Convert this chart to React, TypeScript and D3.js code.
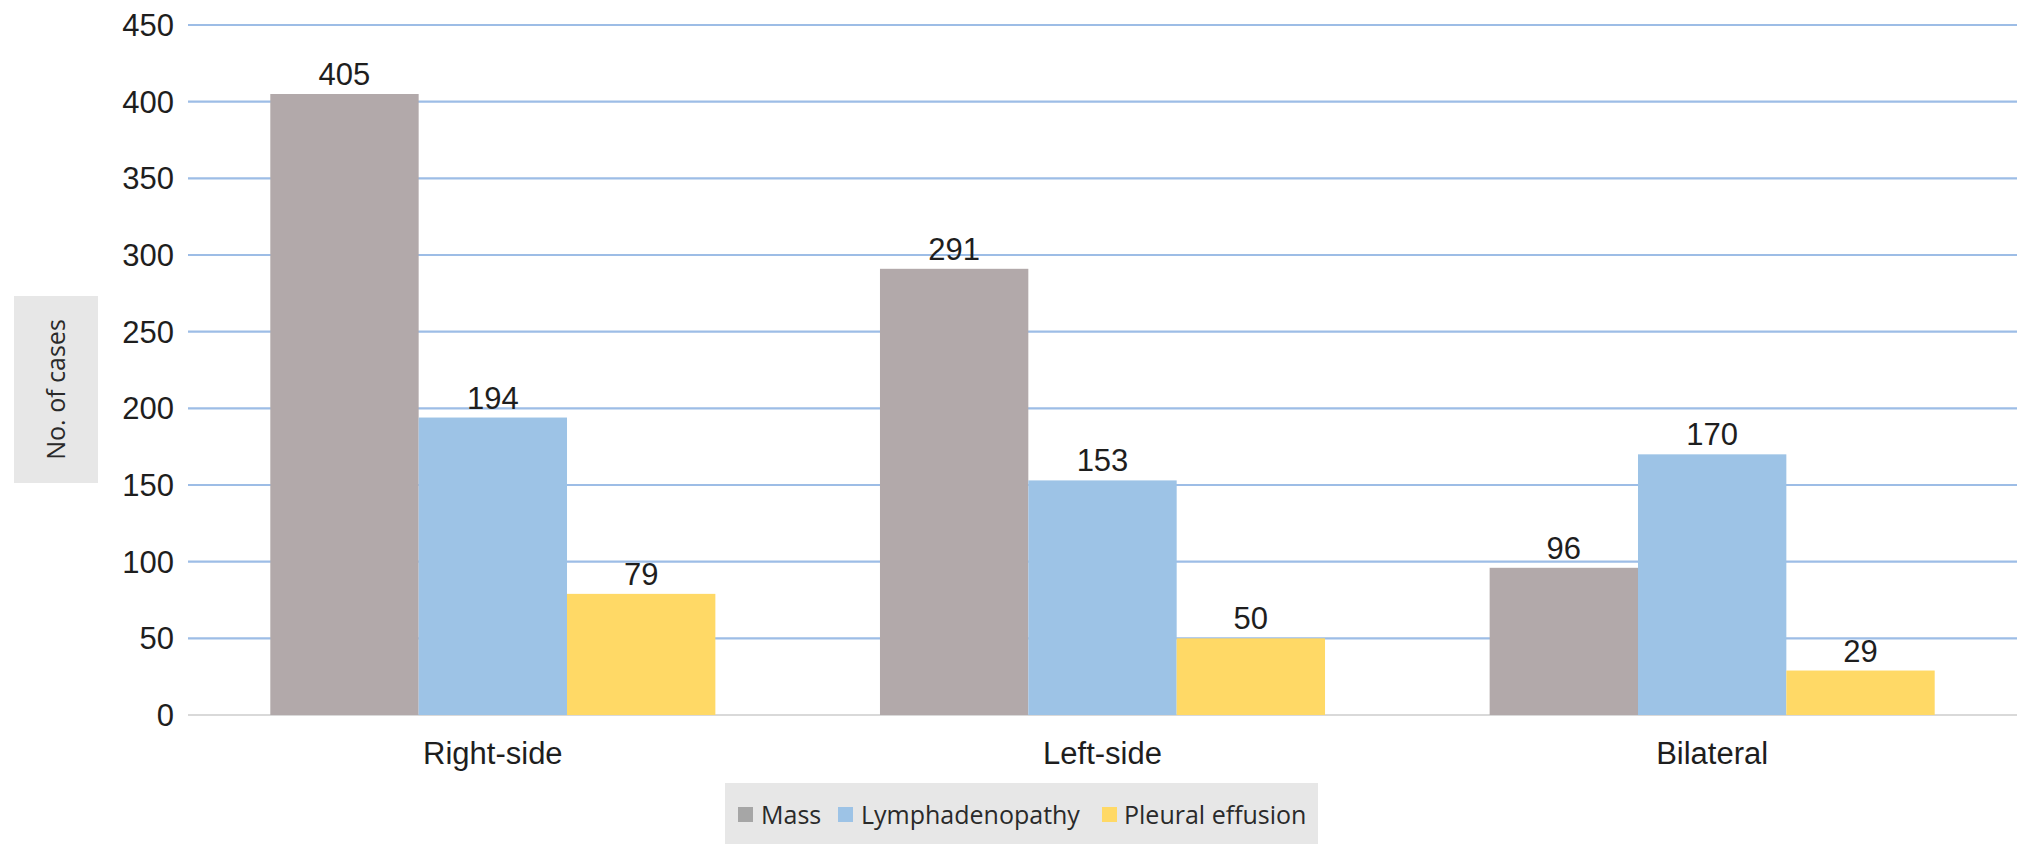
import React from "react";
import * as d3 from "d3";

const categories = ["Right-side", "Left-side", "Bilateral"];
const seriesNames = ["Mass", "Lymphadenopathy", "Pleural effusion"];
const massValues = [405, 291, 96];
const lymphValues = [194, 153, 170];
const pleuralValues = [79, 50, 29];
const yTicks = [0, 50, 100, 150, 200, 250, 300, 350, 400, 450];

const seriesValues = [massValues, lymphValues, pleuralValues];
const barColors = ["#b2a9aa", "#9dc3e6", "#ffd966"];
const legendColors = ["#a6a6a6", "#9dc3e6", "#ffd966"];

const W = 2032;
const H = 859;
const plotLeft = 188;
const plotRight = 2017;
const plotTop = 25;
const plotBottom = 715;

export default function App() {
  const x0 = d3
    .scaleBand<string>()
    .domain(categories)
    .range([plotLeft, plotRight])
    .paddingInner(0.27)
    .paddingOuter(0.135);
  const x1 = d3
    .scaleBand<string>()
    .domain(seriesNames)
    .range([0, x0.bandwidth()])
    .padding(0);
  const y = d3.scaleLinear().domain([0, 450]).range([plotBottom, plotTop]);

  const numFont = "'Liberation Sans', Arial, Helvetica, sans-serif";
  const legFont = "'Open Sans', 'Noto Sans', sans-serif";

  const legendItems = [
    { sq: 738, tx: 761 },
    { sq: 838, tx: 861 },
    { sq: 1102, tx: 1124 },
  ];

  return (
    <svg
      width={W}
      height={H}
      style={{ position: "absolute", left: 0, top: 0, background: "#fff" }}
    >
      {yTicks.map((t) => (
        <line
          key={t}
          x1={plotLeft}
          x2={plotRight}
          y1={y(t)}
          y2={y(t)}
          stroke={t === 0 ? "#d9d9d9" : "#9dbde6"}
          strokeWidth={2.2}
        />
      ))}
      {yTicks.map((t) => (
        <text
          key={"l" + t}
          x={174}
          y={y(t)}
          dy="0.36em"
          textAnchor="end"
          fontFamily={numFont}
          fontSize={31}
          fill="#1e1e1e"
        >
          {t}
        </text>
      ))}
      {categories.map((c, ci) => (
        <g key={c} transform={`translate(${x0(c)},0)`}>
          {seriesNames.map((s, si) => {
            const v = seriesValues[si][ci];
            const bx = x1(s)!;
            return (
              <g key={s}>
                <rect
                  x={bx}
                  y={y(v)}
                  width={x1.bandwidth()}
                  height={y(0) - y(v)}
                  fill={barColors[si]}
                />
                <text
                  x={bx + x1.bandwidth() / 2}
                  y={y(v) - 9}
                  textAnchor="middle"
                  fontFamily={numFont}
                  fontSize={31}
                  fill="#1e1e1e"
                >
                  {v}
                </text>
              </g>
            );
          })}
        </g>
      ))}
      {categories.map((c) => (
        <text
          key={"c" + c}
          x={x0(c)! + x0.bandwidth() / 2}
          y={764}
          textAnchor="middle"
          fontFamily={numFont}
          fontSize={31}
          fill="#1e1e1e"
        >
          {c}
        </text>
      ))}
      <rect x={14} y={296} width={84} height={187} fill="#e7e7e7" />
      <text
        transform={`translate(65,${(296 + 483) / 2}) rotate(-90)`}
        textAnchor="middle"
        fontFamily={legFont}
        fontSize={25}
        fill="#2a2a2a"
      >
        No. of cases
      </text>
      <rect x={725} y={783} width={593} height={61} fill="#e7e7e7" />
      {seriesNames.map((s, i) => (
        <g key={"lg" + s}>
          <rect
            x={legendItems[i].sq}
            y={807}
            width={15}
            height={15}
            fill={legendColors[i]}
          />
          <text
            x={legendItems[i].tx}
            y={824}
            fontFamily={legFont}
            fontSize={25}
            fill="#2a2a2a"
          >
            {s}
          </text>
        </g>
      ))}
    </svg>
  );
}
